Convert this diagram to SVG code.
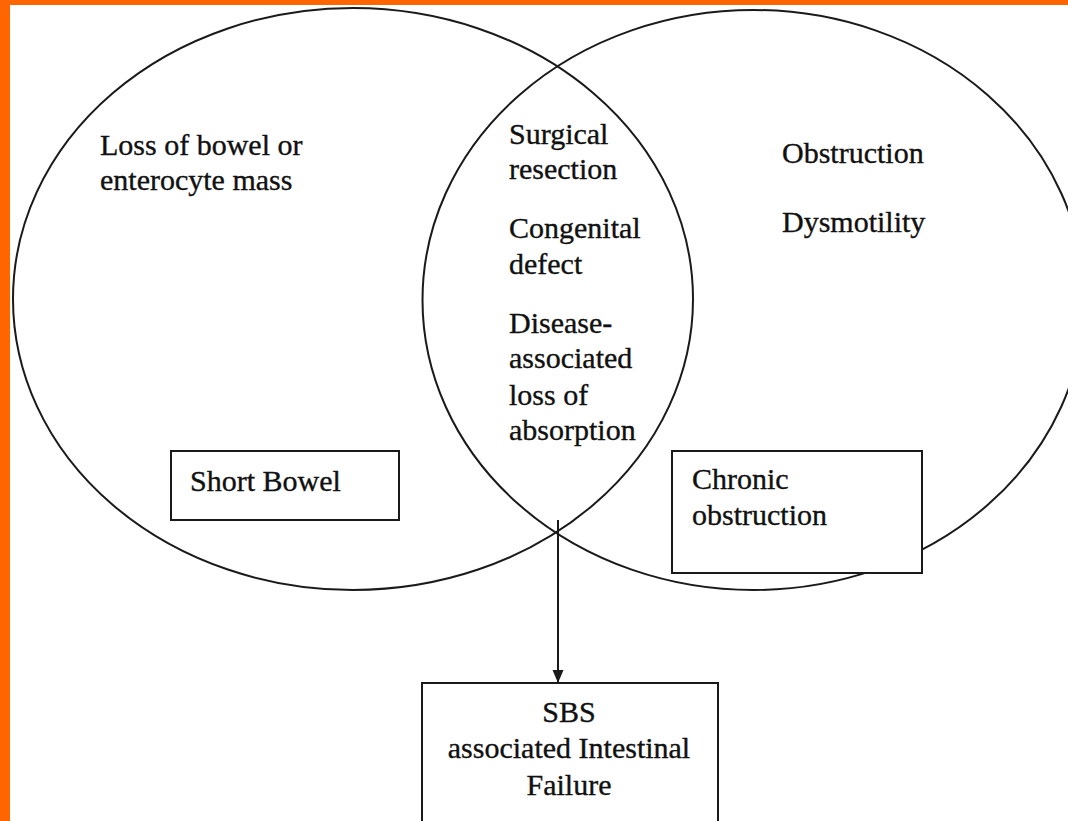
<svg xmlns="http://www.w3.org/2000/svg" width="1068" height="821" viewBox="0 0 1068 821">
<style>
.t{font-family:"Liberation Serif","Times New Roman",serif;font-size:30px;fill:#111;stroke:#111;stroke-width:0.35}
.c{text-anchor:middle}
.ell{fill:none;stroke:#1a1a1a;stroke-width:2}
.box{fill:#fff;stroke:#1a1a1a;stroke-width:2}
.conn{stroke:#1a1a1a;stroke-width:2;fill:none}
</style>
<defs>
<marker id="ah" markerWidth="14" markerHeight="12" refX="13" refY="5.5" orient="auto" markerUnits="userSpaceOnUse">
<path d="M0,0 L13,5.5 L0,11 Z" fill="#1a1a1a"/>
</marker>
</defs>
<rect x="0" y="0" width="1068" height="821" fill="#fff"/>
<g id="left-circle">
<ellipse class="ell" cx="353" cy="299" rx="340" ry="291"/>
<text class="t" x="100" y="155">Loss of bowel or</text>
<text class="t" x="100" y="190">enterocyte mass</text>
</g>
<g id="right-circle">
<ellipse class="ell" cx="753.5" cy="300" rx="331" ry="290"/>
<text class="t" x="782" y="163">Obstruction</text>
<text class="t" x="782" y="232">Dysmotility</text>
</g>
<g id="overlap">
<text class="t" x="509" y="144">Surgical</text>
<text class="t" x="509" y="179">resection</text>
<text class="t" x="509" y="238">Congenital</text>
<text class="t" x="509" y="274">defect</text>
<text class="t" x="509" y="333">Disease-</text>
<text class="t" x="509" y="368">associated</text>
<text class="t" x="509" y="405">loss of</text>
<text class="t" x="509" y="440">absorption</text>
</g>
<g id="short-bowel">
<rect class="box" x="171" y="451" width="228" height="69"/>
<text class="t" x="190" y="491">Short Bowel</text>
</g>
<g id="chronic-obstruction">
<rect class="box" x="672" y="451" width="250" height="122"/>
<text class="t" x="692" y="489">Chronic</text>
<text class="t" x="692" y="525">obstruction</text>
</g>
<g id="connectors">
<line class="conn" x1="558" y1="520" x2="558" y2="683" marker-end="url(#ah)"/>
</g>
<g id="sbs-failure">
<rect class="box" x="422" y="683" width="296" height="150"/>
<text class="t c" x="569" y="722">SBS</text>
<text class="t c" x="569" y="758">associated Intestinal</text>
<text class="t c" x="569" y="795">Failure</text>
</g>
<rect x="0" y="0" width="1068" height="5" fill="#ff6600"/>
<rect x="0" y="0" width="10" height="821" fill="#ff6600"/>
</svg>
